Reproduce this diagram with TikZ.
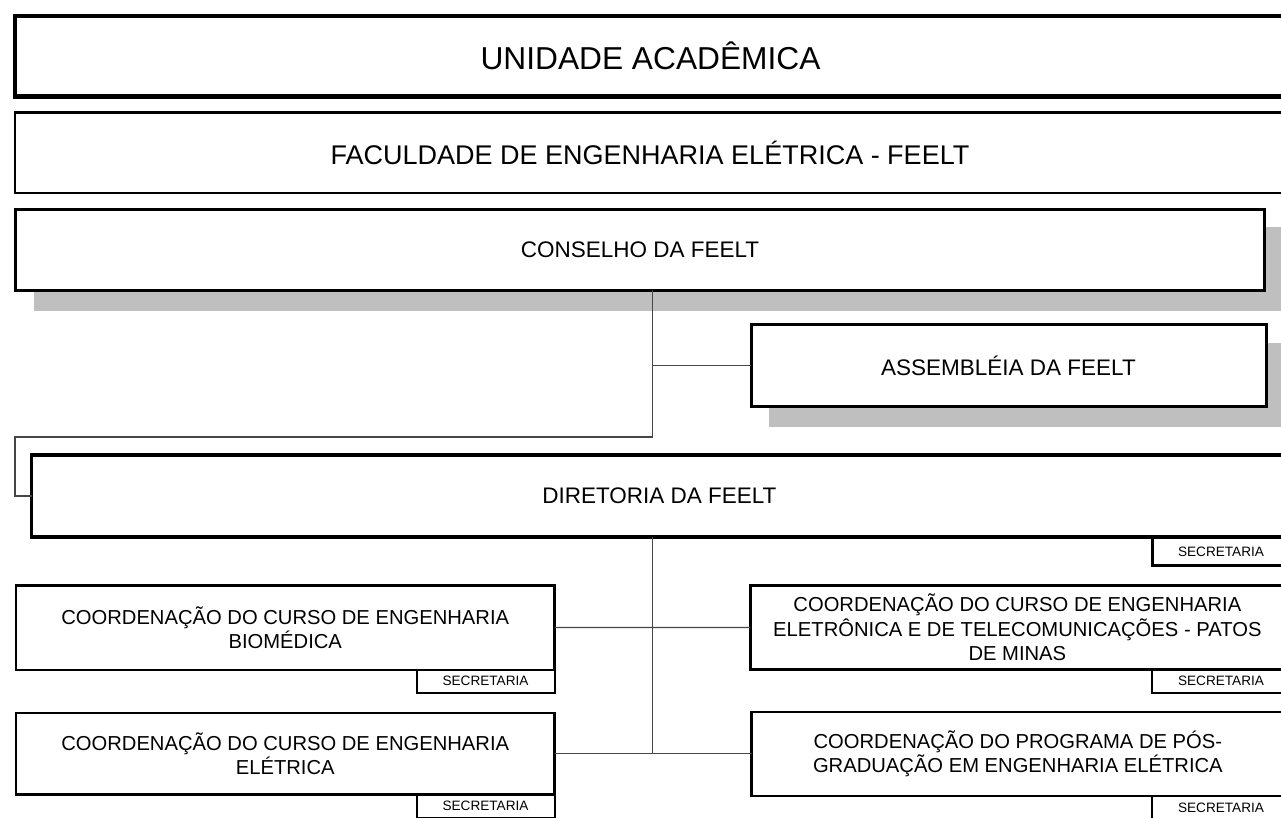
\documentclass[tikz,border=0pt]{standalone}
\usepackage{fontspec}
\setmainfont{Liberation Sans}
\usetikzlibrary{backgrounds}
\definecolor{shadowc}{RGB}{191,191,191}
\definecolor{connc}{RGB}{70,70,70}
\begin{document}
\begin{tikzpicture}[x=1pt,y=-1pt,
  box/.style={draw=black, fill=white, rectangle, inner sep=0pt, outer sep=0pt,
    anchor=north west, align=center},
  bigtxt/.style={font=\fontsize{22.5}{27}\selectfont},
  coordtxt/.style={font=\fontsize{20.2}{24.5}\selectfont},
  sectxt/.style={font=\fontsize{13.6}{16}\selectfont},
  secbox/.style={box, line width=2pt, minimum width=138pt, minimum height=23pt, sectxt},
  coordbox/.style={box, line width=2.5pt, coordtxt},
  conn/.style={draw=connc, line width=1.2pt},
  shadow/.style={fill=shadowc}]
\useasboundingbox (0,0) rectangle (1281,817);
\clip (0,0) rectangle (1281,817);

% top boxes
\node[box, line width=4.5pt, minimum width=1271pt, minimum height=80.5pt,
  font=\fontsize{31.7}{38}\selectfont] (unidade) at (15,16) {UNIDADE ACADÊMICA};
\node[box, line width=2.5pt, minimum width=1270pt, minimum height=80.5pt,
  font=\fontsize{27}{32}\selectfont] (faculdade) at (15,112.5) {FACULDADE DE ENGENHARIA ELÉTRICA - FEELT};
\node[box, line width=3pt, minimum width=1249pt, minimum height=81pt, bigtxt]
  (conselho) at (15.5,209) {CONSELHO DA FEELT};
\node[box, line width=3pt, minimum width=515pt, minimum height=81.3pt, bigtxt]
  (assembleia) at (751,324.7) {ASSEMBLÉIA DA FEELT};
\node[box, line width=3.5pt, minimum width=1255.3pt, minimum height=82pt, bigtxt]
  (diretoria) at (31.7,455) {DIRETORIA DA FEELT};
\node[secbox, line width=3pt, minimum height=28.7pt] (secdir) at (1152,537) {SECRETARIA};

% coordinations
\node[coordbox, minimum width=538.5pt, minimum height=84.5pt] (biomed) at (16,585.3)
  {COORDENAÇÃO DO CURSO DE ENGENHARIA\\BIOMÉDICA};
\node[secbox] (secbio) at (416.5,669.8) {SECRETARIA};
\node[coordbox, minimum width=538.5pt, minimum height=81.7pt] (eletrica) at (16,712.8)
  {COORDENAÇÃO DO CURSO DE ENGENHARIA\\ELÉTRICA};
\node[secbox] (secele) at (416.5,794.5) {SECRETARIA};
\node[coordbox, minimum width=533.3pt, minimum height=84pt] (eletron) at (750.7,585.5)
  {COORDENAÇÃO DO CURSO DE ENGENHARIA\\ELETRÔNICA E DE TELECOMUNICAÇÕES - PATOS\\DE MINAS};
\node[secbox] (secetr) at (1152,669.5) {SECRETARIA};
\node[coordbox, minimum width=532.3pt, minimum height=84pt] (pos) at (751.7,712)
  {COORDENAÇÃO DO PROGRAMA DE PÓS-\\GRADUAÇÃO EM ENGENHARIA ELÉTRICA};
\node[secbox] (secpos) at (1152,796) {SECRETARIA};

% shadows
\begin{pgfonlayer}{background}
  \fill[shadow] ([shift={(18pt,-18pt)}]conselho.north west) rectangle ([shift={(21pt,-21pt)}]conselho.south east);
  \fill[shadow] ([shift={(18pt,-18pt)}]assembleia.north west) rectangle ([shift={(21pt,-21pt)}]assembleia.south east);
\end{pgfonlayer}

% connectors
\coordinate (j1) at (652.7,437);
\coordinate (j2) at (15,437);
\path[conn] (conselho.south -| j1) -- (j1) -- (j2) -- (j2 |- diretoria.west) -- (diretoria.west);
\path[conn] (assembleia.west) -- (assembleia.west -| j1);
\path[conn] (diretoria.south -| j1) -- (j1 |- pos.west);
\path[conn] (biomed.east) -- (eletron.west);
\path[conn] (eletrica.east) -- (eletrica.east -| pos.west);
\end{tikzpicture}
\end{document}
